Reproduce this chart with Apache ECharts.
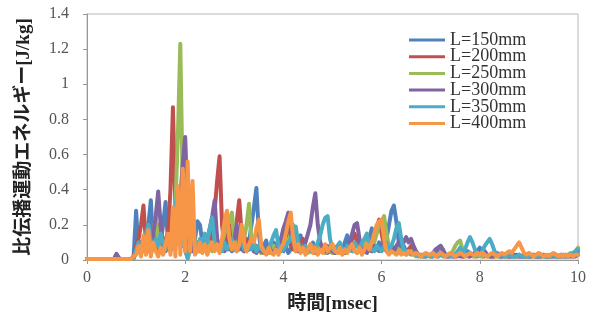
<!DOCTYPE html>
<html><head><meta charset="utf-8">
<script src="https://cdn.jsdelivr.net/npm/echarts@6/dist/echarts.min.js"></script>
<style>html,body{margin:0;padding:0;background:#fff}#c{width:592px;height:321px}</style>
</head><body><div id="c"></div>
<script>
// sample grid: every 0.05 msec from 0 to 10
const step = 0.05;
const seriesNames = ['L=150mm','L=200mm','L=250mm','L=300mm','L=350mm','L=400mm'];
const xTicks = [0,2,4,6,8,10];
const yTicks = [0,0.2,0.4,0.6,0.8,1,1.2,1.4];

const L150 = [
0.005,0.005,0.005,0.005,0.005,0.005,0.005,0.005,0.005,0.005,0.005,0.005,0.005,0.005,0.005,0.005,0.005,0.005,0.005,0.02,
0.28,0.05,0.1,0.06,0.12,0.2,0.34,0.08,0.15,0.05,0.1,0.2,0.33,0.1,0.05,0.12,0.2,0.15,0.1,0.3,
0.15,0.08,0.05,0.1,0.12,0.22,0.2,0.1,0.12,0.05,0.08,0.1,0.22,0.1,0.05,0.08,0.12,0.06,0.1,0.05,
0.08,0.12,0.06,0.1,0.05,0.08,0.1,0.2,0.3,0.41,0.15,0.05,0.08,0.11,0.04,0.06,0.1,0.08,0.04,0.06,
0.05,0.08,0.04,0.06,0.1,0.05,0.08,0.14,0.06,0.04,0.06,0.05,0.1,0.06,0.04,0.05,0.08,0.06,0.04,0.05,
0.06,0.04,0.05,0.08,0.05,0.1,0.14,0.06,0.05,0.08,0.1,0.05,0.06,0.08,0.1,0.12,0.18,0.08,0.06,0.1,
0.08,0.06,0.12,0.2,0.28,0.31,0.22,0.1,0.06,0.08,0.05,0.06,0.04,0.05,0.03,0.03,0.02,0.03,0.02,0.03,
0.02,0.03,0.04,0.06,0.08,0.05,0.03,0.02,0.03,0.02,0.03,0.04,0.03,0.02,0.04,0.05,0.04,0.03,0.04,0.05,
0.07,0.04,0.03,0.02,0.03,0.02,0.02,0.03,0.02,0.02,0.03,0.02,0.02,0.03,0.02,0.02,0.03,0.02,0.02,0.02,
0.02,0.03,0.02,0.02,0.02,0.03,0.02,0.02,0.02,0.02,0.03,0.02,0.02,0.02,0.03,0.02,0.03,0.02,0.03,0.04,
0.05];
const L200 = [
0.005,0.005,0.005,0.005,0.005,0.005,0.005,0.005,0.005,0.005,0.005,0.005,0.03,0.01,0.005,0.005,0.005,0.005,0.005,0.02,
0.08,0.12,0.2,0.31,0.1,0.05,0.12,0.06,0.1,0.2,0.08,0.05,0.12,0.15,0.4,0.87,0.3,0.1,0.15,0.08,
0.1,0.05,0.08,0.12,0.06,0.1,0.05,0.08,0.12,0.06,0.1,0.15,0.28,0.45,0.59,0.2,0.08,0.12,0.2,0.1,
0.15,0.22,0.34,0.15,0.08,0.12,0.06,0.1,0.05,0.08,0.06,0.04,0.06,0.05,0.08,0.04,0.06,0.05,0.08,0.12,
0.15,0.2,0.12,0.08,0.06,0.1,0.05,0.08,0.12,0.06,0.05,0.08,0.06,0.04,0.06,0.08,0.05,0.04,0.06,0.05,
0.04,0.06,0.08,0.05,0.04,0.06,0.05,0.08,0.12,0.15,0.1,0.06,0.05,0.08,0.06,0.1,0.08,0.12,0.18,0.23,
0.15,0.08,0.06,0.05,0.08,0.06,0.05,0.04,0.06,0.05,0.04,0.06,0.08,0.04,0.03,0.02,0.03,0.02,0.02,0.03,
0.02,0.02,0.03,0.02,0.04,0.03,0.02,0.02,0.03,0.02,0.02,0.03,0.02,0.02,0.03,0.02,0.02,0.03,0.02,0.02,
0.03,0.02,0.02,0.03,0.02,0.02,0.02,0.03,0.02,0.02,0.03,0.02,0.02,0.02,0.03,0.02,0.02,0.02,0.03,0.02,
0.02,0.02,0.03,0.02,0.02,0.02,0.03,0.02,0.02,0.02,0.02,0.03,0.02,0.02,0.02,0.03,0.02,0.02,0.02,0.03,
0.03];
const L250 = [
0.005,0.005,0.005,0.005,0.005,0.005,0.005,0.005,0.005,0.005,0.005,0.005,0.005,0.005,0.005,0.005,0.005,0.005,0.005,0.01,
0.05,0.08,0.05,0.1,0.06,0.12,0.08,0.15,0.25,0.1,0.06,0.08,0.05,0.12,0.08,0.15,0.3,0.7,1.23,0.4,
0.1,0.01,0.05,0.08,0.06,0.1,0.05,0.12,0.08,0.06,0.1,0.05,0.08,0.12,0.06,0.1,0.15,0.2,0.22,0.27,
0.12,0.06,0.1,0.08,0.12,0.2,0.32,0.1,0.06,0.05,0.08,0.04,0.06,0.05,0.04,0.06,0.08,0.05,0.04,0.06,
0.08,0.12,0.1,0.15,0.2,0.12,0.06,0.05,0.08,0.06,0.04,0.05,0.08,0.06,0.05,0.1,0.06,0.04,0.05,0.06,
0.04,0.05,0.06,0.04,0.05,0.06,0.04,0.08,0.06,0.05,0.04,0.06,0.08,0.12,0.08,0.06,0.05,0.1,0.15,0.2,
0.22,0.25,0.15,0.08,0.06,0.05,0.04,0.06,0.05,0.04,0.03,0.04,0.05,0.03,0.02,0.03,0.02,0.02,0.03,0.02,
0.02,0.03,0.02,0.02,0.03,0.04,0.03,0.02,0.03,0.05,0.08,0.1,0.11,0.06,0.03,0.02,0.03,0.02,0.02,0.03,
0.02,0.02,0.03,0.02,0.02,0.03,0.02,0.02,0.02,0.03,0.02,0.02,0.03,0.02,0.02,0.02,0.03,0.02,0.02,0.02,
0.03,0.02,0.02,0.02,0.03,0.02,0.02,0.02,0.03,0.02,0.02,0.03,0.02,0.02,0.03,0.02,0.03,0.04,0.03,0.05,
0.07];
const L300 = [
0.005,0.005,0.005,0.005,0.005,0.005,0.005,0.005,0.005,0.005,0.005,0.005,0.035,0.01,0.005,0.005,0.005,0.005,0.005,0.01,
0.04,0.06,0.1,0.05,0.08,0.12,0.06,0.15,0.25,0.39,0.2,0.08,0.05,0.1,0.06,0.12,0.08,0.2,0.35,0.55,
0.7,0.3,0.1,0.05,0.08,0.06,0.1,0.05,0.08,0.12,0.18,0.25,0.34,0.12,0.06,0.08,0.05,0.1,0.06,0.08,
0.12,0.2,0.1,0.06,0.05,0.08,0.06,0.1,0.05,0.04,0.06,0.05,0.04,0.06,0.08,0.05,0.04,0.06,0.08,0.12,
0.18,0.22,0.27,0.15,0.08,0.06,0.05,0.08,0.06,0.1,0.15,0.2,0.3,0.38,0.2,0.1,0.06,0.05,0.08,0.06,
0.05,0.04,0.06,0.08,0.05,0.04,0.06,0.1,0.15,0.2,0.21,0.12,0.06,0.05,0.04,0.06,0.05,0.08,0.06,0.05,
0.06,0.08,0.05,0.04,0.06,0.05,0.08,0.1,0.12,0.1,0.13,0.1,0.12,0.08,0.05,0.03,0.02,0.03,0.02,0.03,
0.03,0.04,0.06,0.07,0.08,0.06,0.03,0.02,0.02,0.03,0.02,0.02,0.03,0.02,0.02,0.03,0.02,0.03,0.04,0.05,
0.05,0.04,0.05,0.03,0.02,0.02,0.03,0.04,0.03,0.02,0.02,0.03,0.02,0.02,0.02,0.03,0.02,0.02,0.02,0.03,
0.02,0.02,0.03,0.02,0.02,0.02,0.03,0.02,0.02,0.03,0.02,0.02,0.02,0.03,0.02,0.02,0.02,0.03,0.02,0.02,
0.03];
const L350 = [
0.005,0.005,0.005,0.005,0.005,0.005,0.005,0.005,0.005,0.005,0.005,0.005,0.005,0.005,0.005,0.005,0.005,0.005,0.005,0.01,
0.06,0.1,0.05,0.08,0.15,0.2,0.1,0.06,0.12,0.08,0.15,0.1,0.06,0.12,0.08,0.2,0.3,0.4,0.25,0.12,
0.05,0.01,0.08,0.15,0.1,0.06,0.12,0.08,0.15,0.1,0.18,0.24,0.1,0.06,0.08,0.05,0.1,0.06,0.08,0.12,
0.06,0.05,0.08,0.12,0.06,0.05,0.08,0.06,0.1,0.05,0.08,0.06,0.05,0.04,0.06,0.1,0.14,0.17,0.08,0.05,
0.06,0.08,0.1,0.12,0.15,0.19,0.1,0.06,0.05,0.08,0.06,0.05,0.08,0.06,0.1,0.14,0.2,0.24,0.25,0.12,
0.06,0.05,0.08,0.1,0.06,0.05,0.08,0.06,0.05,0.1,0.08,0.06,0.1,0.12,0.15,0.08,0.06,0.05,0.08,0.06,
0.05,0.08,0.1,0.06,0.08,0.12,0.18,0.21,0.12,0.06,0.05,0.04,0.03,0.04,0.03,0.02,0.03,0.02,0.02,0.03,
0.02,0.02,0.03,0.02,0.03,0.02,0.02,0.03,0.02,0.02,0.03,0.05,0.07,0.04,0.06,0.1,0.13,0.1,0.06,0.04,
0.03,0.05,0.08,0.1,0.12,0.09,0.05,0.03,0.02,0.03,0.02,0.02,0.03,0.02,0.02,0.02,0.03,0.02,0.02,0.02,
0.02,0.03,0.02,0.02,0.02,0.03,0.02,0.02,0.02,0.02,0.03,0.02,0.02,0.03,0.02,0.02,0.02,0.03,0.04,0.05,
0.06];
const L400 = [
0.005,0.005,0.005,0.005,0.005,0.005,0.005,0.005,0.005,0.005,0.005,0.005,0.005,0.005,0.005,0.005,0.005,0.005,0.005,0.02,
0.03,0.08,0.02,0.14,0.03,0.17,0.02,0.1,0.05,0.02,0.07,0.03,0.09,0.15,0.03,0.3,0.02,0.42,0.03,0.52,
0.05,0.56,0.05,0.45,0.03,0.05,0.1,0.04,0.09,0.03,0.07,0.1,0.05,0.09,0.04,0.12,0.22,0.28,0.12,0.06,
0.1,0.05,0.09,0.2,0.1,0.05,0.09,0.12,0.1,0.18,0.23,0.08,0.05,0.03,0.07,0.04,0.03,0.06,0.03,0.07,
0.09,0.15,0.22,0.27,0.12,0.05,0.09,0.04,0.07,0.03,0.06,0.09,0.04,0.07,0.03,0.06,0.04,0.09,0.05,0.07,
0.09,0.05,0.04,0.07,0.03,0.06,0.04,0.07,0.09,0.05,0.04,0.07,0.03,0.06,0.09,0.06,0.1,0.15,0.2,0.22,
0.23,0.12,0.05,0.03,0.05,0.04,0.03,0.05,0.03,0.04,0.03,0.05,0.04,0.03,0.04,0.03,0.02,0.03,0.04,0.03,
0.03,0.04,0.02,0.03,0.04,0.03,0.02,0.03,0.04,0.03,0.02,0.03,0.04,0.03,0.02,0.03,0.04,0.03,0.03,0.04,
0.03,0.04,0.03,0.02,0.03,0.04,0.03,0.02,0.03,0.04,0.03,0.04,0.05,0.04,0.06,0.08,0.1,0.07,0.04,0.03,
0.04,0.03,0.02,0.03,0.04,0.03,0.02,0.03,0.02,0.03,0.04,0.03,0.02,0.03,0.02,0.03,0.02,0.03,0.02,0.03,
0.03];

const allValues = [L150, L200, L250, L300, L350, L400];
const colors = ['#4F81BD','#C0504D','#9BBB59','#8064A2','#4BACC6','#F79646'];

const chart = echarts.init(document.getElementById('c'), null, {renderer:'canvas'});
const serif = "'Liberation Serif','Noto Sans CJK JP',serif";
chart.setOption({
  animation: false,
  backgroundColor: '#fff',
  color: colors,
  grid: {left: 87, right: 14, top: 14, bottom: 61, show: true, borderColor: '#b8b8b8', borderWidth: 1},
  legend: {
    orient: 'vertical', left: 404, top: 26,
    icon: 'rect', itemWidth: 36, itemHeight: 3, itemGap: -1.3, itemTextGap: 2,
    textStyle: {fontFamily: serif, fontSize: 18, color: '#333'},
    data: seriesNames
  },
  xAxis: {
    type: 'value', min: xTicks[0], max: xTicks[xTicks.length-1], interval: xTicks[1]-xTicks[0],
    name: '時間[msec]', nameLocation: 'middle', nameGap: 35,
    nameTextStyle: {fontFamily: serif, fontSize: 19, fontWeight: 'bold', color: '#222'},
    axisLine: {lineStyle: {color: '#999'}},
    axisTick: {show: true, inside: false, length: 4, lineStyle: {color: '#999'}},
    axisLabel: {fontFamily: serif, fontSize: 16, color: '#555', margin: 10},
    splitLine: {show: false}
  },
  yAxis: {
    type: 'value', min: yTicks[0], max: yTicks[yTicks.length-1], interval: yTicks[1]-yTicks[0],
    name: '比伝播運動エネルギー[J/kg]', nameLocation: 'middle', nameGap: 53, nameRotate: 90,
    nameTextStyle: {fontFamily: serif, fontSize: 19, fontWeight: 'bold', color: '#222'},
    axisLine: {show: true, lineStyle: {color: '#999'}},
    axisTick: {show: true, inside: false, length: 4, lineStyle: {color: '#999'}},
    axisLabel: {fontFamily: serif, fontSize: 16, color: '#555', margin: 18},
    splitLine: {show: false}
  },
  series: seriesNames.map((n, k) => ({
    name: n, type: 'line', showSymbol: false, symbol: 'none',
    lineStyle: {width: 4, color: colors[k], join: 'round', cap: 'round'}, itemStyle: {color: colors[k]},
    data: allValues[k].map((v, i) => [+(i*step).toFixed(2), v])
  }))
});
</script></body></html>
